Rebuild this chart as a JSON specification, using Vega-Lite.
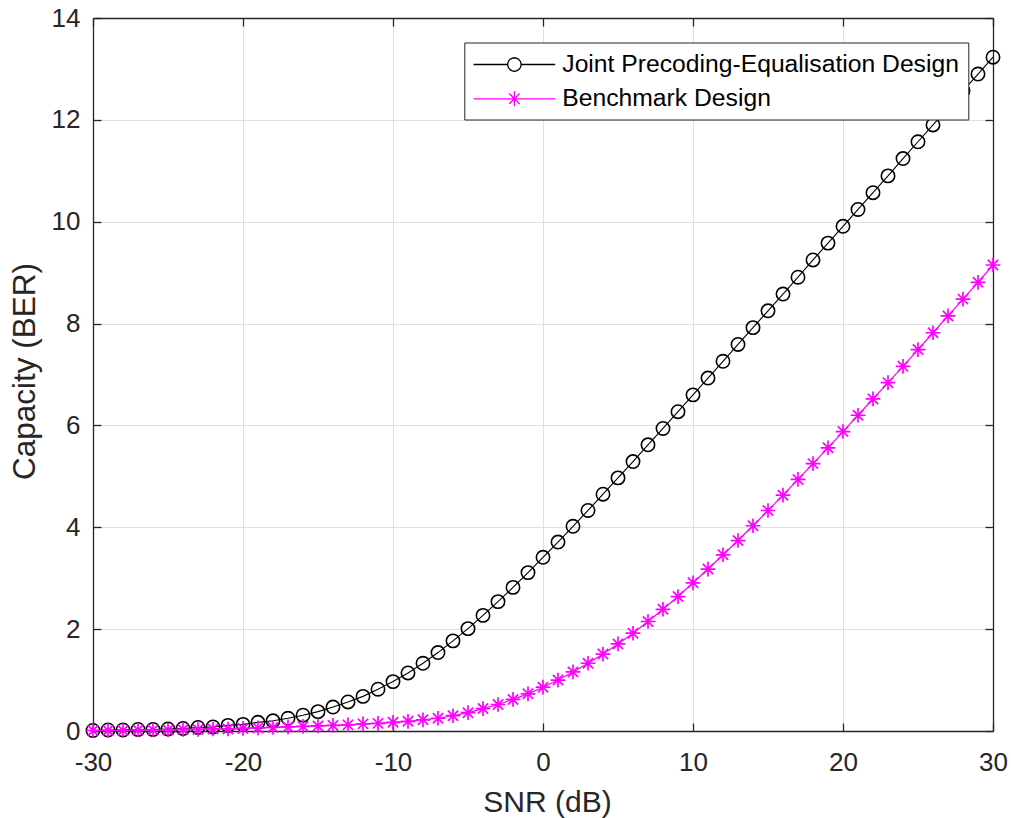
{
  "$schema": "https://vega.github.io/schema/vega-lite/v6.json",
  "width": 900,
  "height": 713,
  "autosize": {"type": "none"},
  "padding": {"left": 93, "top": 18, "right": 18, "bottom": 87},
  "background": "white",
  "config": {"view": {"stroke": null}, "font": "Liberation Sans"},
  "datasets": {
    "d": [
      {"snr": -30, "capacity": 0.01, "series": "J"}, {"snr": -29, "capacity": 0.02, "series": "J"}, {"snr": -28, "capacity": 0.02, "series": "J"}, {"snr": -27, "capacity": 0.03, "series": "J"}, {"snr": -26, "capacity": 0.03, "series": "J"}, {"snr": -25, "capacity": 0.04, "series": "J"}, {"snr": -24, "capacity": 0.05, "series": "J"}, {"snr": -23, "capacity": 0.07, "series": "J"}, {"snr": -22, "capacity": 0.08, "series": "J"}, {"snr": -21, "capacity": 0.11, "series": "J"},
      {"snr": -20, "capacity": 0.13, "series": "J"}, {"snr": -19, "capacity": 0.17, "series": "J"}, {"snr": -18, "capacity": 0.20, "series": "J"}, {"snr": -17, "capacity": 0.25, "series": "J"}, {"snr": -16, "capacity": 0.31, "series": "J"}, {"snr": -15, "capacity": 0.38, "series": "J"}, {"snr": -14, "capacity": 0.47, "series": "J"}, {"snr": -13, "capacity": 0.57, "series": "J"}, {"snr": -12, "capacity": 0.68, "series": "J"}, {"snr": -11, "capacity": 0.82, "series": "J"},
      {"snr": -10, "capacity": 0.97, "series": "J"}, {"snr": -9, "capacity": 1.14, "series": "J"}, {"snr": -8, "capacity": 1.33, "series": "J"}, {"snr": -7, "capacity": 1.54, "series": "J"}, {"snr": -6, "capacity": 1.77, "series": "J"}, {"snr": -5, "capacity": 2.01, "series": "J"}, {"snr": -4, "capacity": 2.27, "series": "J"}, {"snr": -3, "capacity": 2.54, "series": "J"}, {"snr": -2, "capacity": 2.82, "series": "J"}, {"snr": -1, "capacity": 3.11, "series": "J"},
      {"snr": 0, "capacity": 3.41, "series": "J"}, {"snr": 1, "capacity": 3.71, "series": "J"}, {"snr": 2, "capacity": 4.02, "series": "J"}, {"snr": 3, "capacity": 4.33, "series": "J"}, {"snr": 4, "capacity": 4.65, "series": "J"}, {"snr": 5, "capacity": 4.97, "series": "J"}, {"snr": 6, "capacity": 5.29, "series": "J"}, {"snr": 7, "capacity": 5.62, "series": "J"}, {"snr": 8, "capacity": 5.94, "series": "J"}, {"snr": 9, "capacity": 6.27, "series": "J"},
      {"snr": 10, "capacity": 6.60, "series": "J"}, {"snr": 11, "capacity": 6.93, "series": "J"}, {"snr": 12, "capacity": 7.26, "series": "J"}, {"snr": 13, "capacity": 7.59, "series": "J"}, {"snr": 14, "capacity": 7.92, "series": "J"}, {"snr": 15, "capacity": 8.25, "series": "J"}, {"snr": 16, "capacity": 8.58, "series": "J"}, {"snr": 17, "capacity": 8.91, "series": "J"}, {"snr": 18, "capacity": 9.25, "series": "J"}, {"snr": 19, "capacity": 9.58, "series": "J"},
      {"snr": 20, "capacity": 9.91, "series": "J"}, {"snr": 21, "capacity": 10.24, "series": "J"}, {"snr": 22, "capacity": 10.57, "series": "J"}, {"snr": 23, "capacity": 10.90, "series": "J"}, {"snr": 24, "capacity": 11.24, "series": "J"}, {"snr": 25, "capacity": 11.57, "series": "J"}, {"snr": 26, "capacity": 11.90, "series": "J"}, {"snr": 27, "capacity": 12.23, "series": "J"}, {"snr": 28, "capacity": 12.57, "series": "J"}, {"snr": 29, "capacity": 12.90, "series": "J"}, {"snr": 30, "capacity": 13.23, "series": "J"},
      {"snr": -30, "capacity": 0.01, "series": "B"}, {"snr": -29, "capacity": 0.01, "series": "B"}, {"snr": -28, "capacity": 0.01, "series": "B"}, {"snr": -27, "capacity": 0.02, "series": "B"}, {"snr": -26, "capacity": 0.02, "series": "B"}, {"snr": -25, "capacity": 0.02, "series": "B"}, {"snr": -24, "capacity": 0.03, "series": "B"}, {"snr": -23, "capacity": 0.03, "series": "B"}, {"snr": -22, "capacity": 0.04, "series": "B"}, {"snr": -21, "capacity": 0.04, "series": "B"},
      {"snr": -20, "capacity": 0.05, "series": "B"}, {"snr": -19, "capacity": 0.06, "series": "B"}, {"snr": -18, "capacity": 0.07, "series": "B"}, {"snr": -17, "capacity": 0.08, "series": "B"}, {"snr": -16, "capacity": 0.09, "series": "B"}, {"snr": -15, "capacity": 0.10, "series": "B"}, {"snr": -14, "capacity": 0.11, "series": "B"}, {"snr": -13, "capacity": 0.12, "series": "B"}, {"snr": -12, "capacity": 0.14, "series": "B"}, {"snr": -11, "capacity": 0.15, "series": "B"},
      {"snr": -10, "capacity": 0.17, "series": "B"}, {"snr": -9, "capacity": 0.19, "series": "B"}, {"snr": -8, "capacity": 0.22, "series": "B"}, {"snr": -7, "capacity": 0.25, "series": "B"}, {"snr": -6, "capacity": 0.30, "series": "B"}, {"snr": -5, "capacity": 0.36, "series": "B"}, {"snr": -4, "capacity": 0.44, "series": "B"}, {"snr": -3, "capacity": 0.52, "series": "B"}, {"snr": -2, "capacity": 0.62, "series": "B"}, {"snr": -1, "capacity": 0.73, "series": "B"},
      {"snr": 0, "capacity": 0.86, "series": "B"}, {"snr": 1, "capacity": 1.00, "series": "B"}, {"snr": 2, "capacity": 1.16, "series": "B"}, {"snr": 3, "capacity": 1.33, "series": "B"}, {"snr": 4, "capacity": 1.51, "series": "B"}, {"snr": 5, "capacity": 1.71, "series": "B"}, {"snr": 6, "capacity": 1.92, "series": "B"}, {"snr": 7, "capacity": 2.15, "series": "B"}, {"snr": 8, "capacity": 2.39, "series": "B"}, {"snr": 9, "capacity": 2.64, "series": "B"},
      {"snr": 10, "capacity": 2.91, "series": "B"}, {"snr": 11, "capacity": 3.18, "series": "B"}, {"snr": 12, "capacity": 3.46, "series": "B"}, {"snr": 13, "capacity": 3.74, "series": "B"}, {"snr": 14, "capacity": 4.03, "series": "B"}, {"snr": 15, "capacity": 4.33, "series": "B"}, {"snr": 16, "capacity": 4.63, "series": "B"}, {"snr": 17, "capacity": 4.94, "series": "B"}, {"snr": 18, "capacity": 5.25, "series": "B"}, {"snr": 19, "capacity": 5.56, "series": "B"},
      {"snr": 20, "capacity": 5.88, "series": "B"}, {"snr": 21, "capacity": 6.20, "series": "B"}, {"snr": 22, "capacity": 6.52, "series": "B"}, {"snr": 23, "capacity": 6.84, "series": "B"}, {"snr": 24, "capacity": 7.16, "series": "B"}, {"snr": 25, "capacity": 7.49, "series": "B"}, {"snr": 26, "capacity": 7.82, "series": "B"}, {"snr": 27, "capacity": 8.15, "series": "B"}, {"snr": 28, "capacity": 8.48, "series": "B"}, {"snr": 29, "capacity": 8.81, "series": "B"}, {"snr": 30, "capacity": 9.15, "series": "B"}
    ]
  },
  "data": {"name": "d"},
  "resolve": {"axis": {"x": "independent", "y": "independent"}},
  "layer": [
    {
      "transform": [{"filter": "datum.series === 'J'"}],
      "mark": {"type": "line", "color": "#000000", "strokeWidth": 1.1, "clip": false},
      "encoding": {
        "x": {"field": "snr", "type": "quantitative",
          "scale": {"domain": [-30, 30], "nice": false, "zero": false},
          "axis": {"orient": "bottom", "values": [-30, -20, -10, 0, 10, 20, 30], "labelExpr": "'' + datum.value",
            "grid": true, "gridColor": "#dfdfdf", "gridWidth": 1,
            "domainColor": "#262626", "domainWidth": 1.3, "tickColor": "#262626", "tickWidth": 1.3, "tickSize": -8,
            "labelFont": "Liberation Sans", "labelFontSize": 26, "labelColor": "#262626", "labelPadding": 26.5,
            "labelFlush": false, "labelOverlap": false,
            "title": "SNR (dB)", "titleFont": "Liberation Sans", "titleFontSize": 30, "titleFontWeight": "normal", "titleColor": "#262626",
            "titleBaseline": "alphabetic", "titleY": 80.7, "titleX": 454}},
        "y": {"field": "capacity", "type": "quantitative",
          "scale": {"domain": [0, 14], "nice": false},
          "axis": {"orient": "left", "values": [0, 2, 4, 6, 8, 10, 12, 14],
            "grid": true, "gridColor": "#dfdfdf", "gridWidth": 1,
            "domainColor": "#262626", "domainWidth": 1.3, "tickColor": "#262626", "tickWidth": 1.3, "tickSize": -8,
            "labelFont": "Liberation Sans", "labelFontSize": 26, "labelColor": "#262626", "labelPadding": 21,
            "labelFlush": false, "labelOverlap": false,
            "title": "Capacity (BER)", "titleFont": "Liberation Sans", "titleFontSize": 31.5, "titleFontWeight": "normal", "titleColor": "#262626",
            "titleBaseline": "alphabetic", "titleX": -59, "titleY": 353}}
      }
    },
    {
      "transform": [{"filter": "datum.series === 'J'"}],
      "mark": {"type": "point", "shape": "circle", "filled": false, "color": "#000000", "strokeWidth": 1.6, "size": 178, "opacity": 1, "clip": false},
      "encoding": {
        "x": {"field": "snr", "type": "quantitative", "axis": null},
        "y": {"field": "capacity", "type": "quantitative", "axis": null}
      }
    },
    {
      "transform": [{"filter": "datum.series === 'B'"}],
      "mark": {"type": "line", "color": "#ff00ff", "strokeWidth": 1.2, "clip": false},
      "encoding": {
        "x": {"field": "snr", "type": "quantitative", "axis": null},
        "y": {"field": "capacity", "type": "quantitative", "axis": null}
      }
    },
    {
      "transform": [{"filter": "datum.series === 'B'"}],
      "mark": {"type": "point", "shape": "M-1,0L1,0M0,-1L0,1M-0.7,-0.7L0.7,0.7M-0.7,0.7L0.7,-0.7", "filled": false, "color": "#ff00ff", "strokeWidth": 1.7, "size": 215, "opacity": 1, "clip": false},
      "encoding": {
        "x": {"field": "snr", "type": "quantitative", "axis": null},
        "y": {"field": "capacity", "type": "quantitative", "axis": null}
      }
    },
    {
      "transform": [{"filter": "datum.snr > 100"}],
      "mark": {"type": "point", "filled": false, "strokeWidth": 1.3, "size": 576, "opacity": 1},
      "encoding": {
        "x": {"field": "snr", "type": "quantitative",
          "axis": {"orient": "top", "values": [-30, -20, -10, 0, 10, 20, 30], "labels": false, "title": null, "grid": false,
            "domainColor": "#262626", "domainWidth": 1.3, "tickColor": "#262626", "tickWidth": 1.3, "tickSize": -8}},
        "y": {"field": "capacity", "type": "quantitative",
          "axis": {"orient": "right", "values": [0, 2, 4, 6, 8, 10, 12, 14], "labels": false, "title": null, "grid": false,
            "domainColor": "#262626", "domainWidth": 1.3, "tickColor": "#262626", "tickWidth": 1.3, "tickSize": -8}},
        "shape": {"field": "series", "type": "nominal",
          "scale": {"domain": ["Joint Precoding-Equalisation Design", "Benchmark Design"],
            "range": ["M-3.4,0L-0.56,0M0.56,0L3.4,0M0.56,0L0.533,0.173L0.453,0.329L0.329,0.453L0.173,0.533L0,0.56L-0.173,0.533L-0.329,0.453L-0.453,0.329L-0.533,0.173L-0.56,0L-0.533,-0.173L-0.453,-0.329L-0.329,-0.453L-0.173,-0.533L0,-0.56L0.173,-0.533L0.329,-0.453L0.453,-0.329L0.533,-0.173Z",
              "M-3.4,0L3.4,0M0,-0.62L0,0.62M-0.44,-0.44L0.44,0.44M-0.44,0.44L0.44,-0.44"]},
          "legend": {"orient": "none", "legendX": 371.3, "legendY": 24.5, "title": null, "padding": 9,
            "strokeColor": "#262626", "fillColor": "#ffffff", "labelFont": "Liberation Sans", "labelFontSize": 24.7, "labelColor": "#000000",
            "symbolSize": 576, "symbolStrokeWidth": 1.3, "symbolOffset": 28.1, "labelOffset": 34.9, "rowPadding": 9.3, "labelLimit": 600}},
        "color": {"field": "series", "type": "nominal",
          "scale": {"domain": ["Joint Precoding-Equalisation Design", "Benchmark Design"], "range": ["#000000", "#ff00ff"]},
          "legend": {"orient": "none", "legendX": 371.3, "legendY": 24.5, "title": null, "padding": 9,
            "strokeColor": "#262626", "fillColor": "#ffffff", "labelFont": "Liberation Sans", "labelFontSize": 24.7, "labelColor": "#000000",
            "symbolSize": 576, "symbolStrokeWidth": 1.3, "symbolOffset": 28.1, "labelOffset": 34.9, "rowPadding": 9.3, "labelLimit": 600}}
      }
    }
  ]
}
